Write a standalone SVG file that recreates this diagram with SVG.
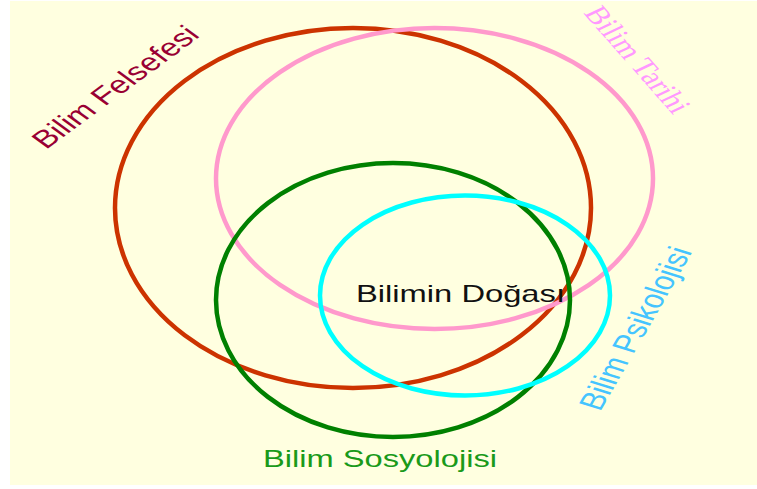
<svg xmlns="http://www.w3.org/2000/svg" width="757" height="489" viewBox="0 0 757 489">
<style>
.ell{fill:none;stroke-width:4.5}
.sans{font-family:"Liberation Sans",Arial,sans-serif}
.serif{font-family:"Liberation Serif","Times New Roman",serif}
</style>
<rect x="0" y="0" width="757" height="489" fill="#ffffff"/>
<rect x="10" y="1" width="747" height="484" fill="#FFFFE0"/>
<g id="connectors"></g>
<g id="felsefe">
<ellipse class="ell" cx="353" cy="208" rx="238" ry="180" stroke="#CC3300"/>
<text class="sans" font-size="25" fill="#990033" transform="translate(46,150) scale(1.36,1) rotate(-45)">Bilim Felsefesi</text>
</g>
<g id="tarih">
<ellipse class="ell" cx="434.5" cy="178.5" rx="218.5" ry="150.5" stroke="#FF99CC"/>
<text class="serif" font-size="25" fill="#FF99FF" transform="translate(583,13) scale(1.36,1) rotate(57)">Bilim Tarihi</text>
</g>
<g id="sosyoloji">
<ellipse class="ell" cx="393" cy="300" rx="177" ry="137" stroke="#008000"/>
<text class="sans" font-size="24" fill="#1A9A1A" x="263" y="467" textLength="234" lengthAdjust="spacingAndGlyphs">Bilim Sosyolojisi</text>
</g>
<g id="psikoloji">
<ellipse class="ell" cx="465" cy="295.5" rx="145" ry="100" stroke="#00FFFF"/>
<text class="sans" font-size="25.5" fill="#44C4FF" transform="translate(600,412) scale(1.36,1) rotate(-67)">Bilim Psikolojisi</text>
</g>
<g id="doga">
<text class="sans" font-size="24" fill="#111111" x="356" y="302" textLength="209" lengthAdjust="spacingAndGlyphs">Bilimin Doğası</text>
</g>
</svg>
